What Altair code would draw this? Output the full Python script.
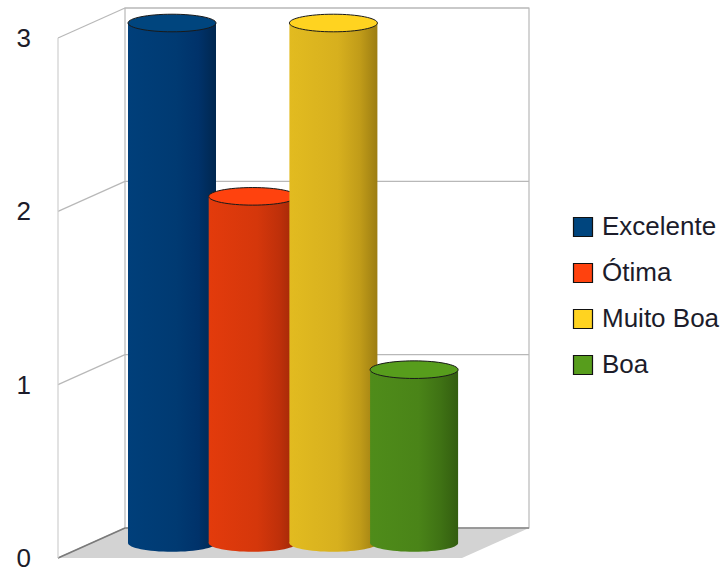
import altair as alt
import pandas as pd

# ---- data ----
categories = ["Excelente", "Ótima", "Muito Boa", "Boa"]
values = [3, 2, 3, 1]
top_colors = ["#00457e", "#ff420e", "#ffd320", "#579d1c"]
body_stops = [
    ["#003f7a", "#003a72", "#00326a", "#00274f"],
    ["#e33b0c", "#d5370b", "#bf300a", "#9c2707"],
    ["#e2bb20", "#d7b01e", "#c19c19", "#9c7d12"],
    ["#4f8c1a", "#4a8418", "#3f7214", "#335d10"],
]
y_ticks = [0, 1, 2, 3]
y_tick_labels = ["0", "1", "2", "3"]

# ---- geometry (in scale units) ----
PX_PER_X = 80.7
PX_PER_Y = 173.33
W, H = 472, 550
X0 = -(172 - 58) / PX_PER_X
X1 = X0 + W / PX_PER_X
Y1 = H / PX_PER_Y
DX = 67 / PX_PER_X
DY = 30 / PX_PER_Y
FRONT_R = X0 + (462 - 58) / PX_PER_X
HALF = 44 / PX_PER_X
YMAX = 3

xs = alt.Scale(domain=[X0, X1], zero=False, nice=False)
ys = alt.Scale(domain=[0, Y1], zero=False, nice=False)

df = pd.DataFrame({"cat": categories, "value": values,
                   "idx": list(range(len(categories)))})
df["xl"] = df["idx"] - HALF
df["xr"] = df["idx"] + HALF
df["base"] = DY / 2
df["top"] = df["value"] + DY / 2

# floor
floor_df = pd.DataFrame({"y": [0, DY], "xa": [X0, X0 + DX], "xb": [FRONT_R, FRONT_R + DX]})
floor = alt.Chart(floor_df).mark_area(orient="horizontal", color="#d3d3d3").encode(
    y=alt.Y("y:Q", scale=ys, axis=None), x=alt.X("xa:Q", scale=xs, axis=None), x2="xb:Q")

# back wall
back_df = pd.DataFrame({"x": [X0 + DX], "x2": [FRONT_R + DX], "y": [DY], "y2": [YMAX + DY]})
back = alt.Chart(back_df).mark_rect(fill="white", stroke="#b8b8b8", strokeWidth=1.2).encode(
    x=alt.X("x:Q", scale=xs, axis=None), x2="x2:Q",
    y=alt.Y("y:Q", scale=ys, axis=None), y2="y2:Q")

grid_df = pd.DataFrame({"v": y_ticks, "label": y_tick_labels})
grid_df["yb"] = grid_df["v"] + DY
grid_df["xa"] = X0
grid_df["xb"] = X0 + DX
grid_df["xc"] = FRONT_R + DX
back_grid = alt.Chart(grid_df).mark_rule(color="#b8b8b8", strokeWidth=1.2).encode(
    x=alt.X("xb:Q", scale=xs, axis=None), x2="xc:Q",
    y=alt.Y("yb:Q", scale=ys, axis=None))
side_grid = alt.Chart(grid_df).mark_rule(color="#b8b8b8", strokeWidth=1.2).encode(
    x=alt.X("xa:Q", scale=xs, axis=None), x2="xb:Q",
    y=alt.Y("v:Q", scale=ys, axis=None), y2="yb:Q")
tick_labels = alt.Chart(grid_df).mark_text(
    align="right", baseline="middle", dx=-27, dy=1, fontSize=26,
    font="Liberation Sans", color="#1c1c2a").encode(
    x=alt.X("xa:Q", scale=xs, axis=None), y=alt.Y("v:Q", scale=ys, axis=None),
    text="label:N")
bottom_edge = alt.Chart(grid_df[grid_df["v"] == 0]).mark_rule(color="#7a7a7a", strokeWidth=1.5).encode(
    x=alt.X("xa:Q", scale=xs, axis=None), x2="xb:Q",
    y=alt.Y("v:Q", scale=ys, axis=None), y2="yb:Q")
back_bottom = alt.Chart(grid_df[grid_df["v"] == 0]).mark_rule(color="#8a8a8a", strokeWidth=1.5).encode(
    x=alt.X("xb:Q", scale=xs, axis=None), x2="xc:Q",
    y=alt.Y("yb:Q", scale=ys, axis=None))
front_edge = alt.Chart(pd.DataFrame({"x": [X0], "y": [0], "y2": [YMAX]})).mark_rule(
    color="#cfcfcf", strokeWidth=1.2).encode(
    x=alt.X("x:Q", scale=xs, axis=None), y=alt.Y("y:Q", scale=ys, axis=None), y2="y2:Q")

ELLIPSE = "M -1 0 A 1 0.2 0 1 1 1 0 A 1 0.2 0 1 1 -1 0 Z"
SIZE = 88 * 88

layers = [floor, back, back_grid, side_grid, bottom_edge, back_bottom, front_edge, tick_labels]
for i, cat in enumerate(categories):
    st = body_stops[i]
    grad = alt.LinearGradient(
        gradient="linear", x1=0, x2=1, y1=0, y2=0,
        stops=[alt.GradientStop(offset=0, color=st[0]),
               alt.GradientStop(offset=0.55, color=st[1]),
               alt.GradientStop(offset=0.8, color=st[2]),
               alt.GradientStop(offset=1, color=st[3])])
    sub = alt.Chart(df).transform_filter(alt.datum.cat == cat)
    bottom = sub.mark_point(shape=ELLIPSE, filled=True, size=SIZE, opacity=1,
                            fill=grad, strokeOpacity=0).encode(
        x=alt.X("idx:Q", scale=xs, axis=None), y=alt.Y("base:Q", scale=ys, axis=None))
    body = sub.mark_bar(color=grad).encode(
        x=alt.X("xl:Q", scale=xs, axis=None), x2="xr:Q",
        y=alt.Y("base:Q", scale=ys, axis=None), y2="top:Q")
    top = sub.mark_point(shape=ELLIPSE, filled=True, size=SIZE, opacity=1,
                         stroke="#1a1a1a", strokeWidth=1).encode(
        x=alt.X("idx:Q", scale=xs, axis=None), y=alt.Y("top:Q", scale=ys, axis=None),
        color=alt.Color("cat:N", scale=alt.Scale(domain=categories, range=top_colors),
                        legend=alt.Legend(title=None, orient="none", legendX=512, legendY=206,
                                          symbolType="square", symbolSize=361,
                                          symbolStrokeColor="#111", symbolStrokeWidth=1.2,
                                          symbolOpacity=1,
                                          labelFontSize=26, labelFont="Liberation Sans",
                                          labelColor="#1c1c2a", labelOffset=6,
                                          rowPadding=20)))
    layers += [bottom, body, top]

chart = alt.layer(*layers).properties(
    width=W, height=H,
    view=alt.ViewBackground(strokeWidth=0, strokeOpacity=0),
    autosize=alt.AutoSizeParams(type="none"),
    padding={"left": 58, "top": 8, "right": 728 - 58 - W, "bottom": 572 - 8 - H},
).configure_view(strokeWidth=0, strokeOpacity=0).configure(background="white")

chart.save("out.html", embed_options={"renderer": "svg", "actions": False})
